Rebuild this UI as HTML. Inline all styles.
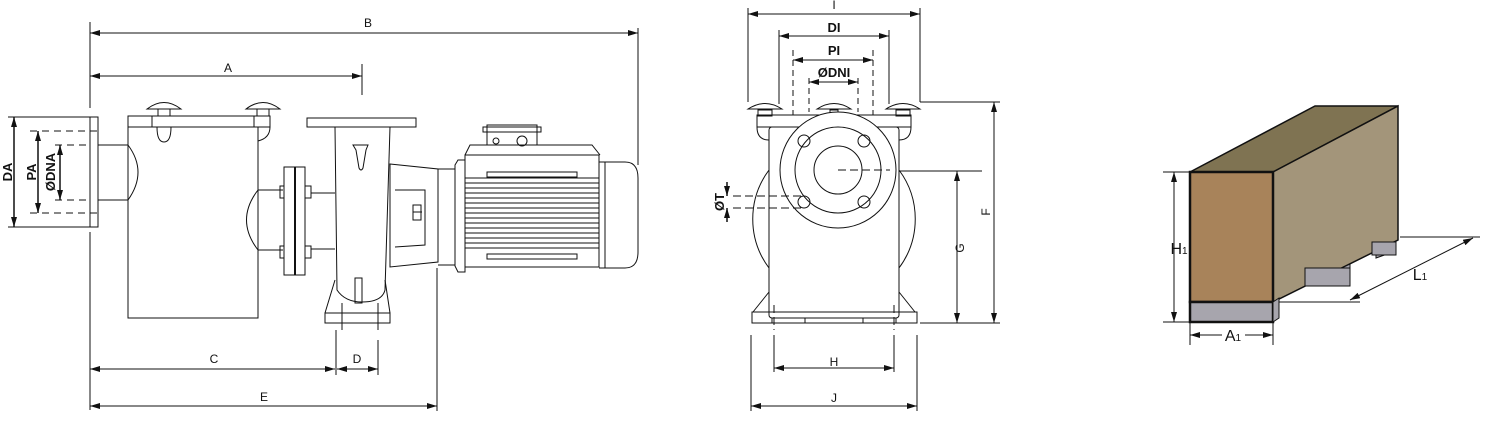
<!DOCTYPE html>
<html><head><meta charset="utf-8"><style>html,body{margin:0;padding:0;background:#fff}svg{display:block}</style></head>
<body>
<svg width="1486" height="422" viewBox="0 0 1486 422" xmlns="http://www.w3.org/2000/svg" font-family="Liberation Sans, sans-serif">
<defs>
<marker id="a" viewBox="0 0 10 6" refX="10" refY="3" markerWidth="10" markerHeight="6" orient="auto-start-reverse" markerUnits="userSpaceOnUse"><path d="M0,0L10,3L0,6z" fill="#111"/></marker>
</defs>
<g fill="none" stroke="#111" stroke-width="1">
<!-- ===== SIDE VIEW ===== -->
<!-- extension lines -->
<line x1="90" y1="22" x2="90" y2="108"/><line x1="90" y1="232" x2="90" y2="410"/>
<line x1="638" y1="28" x2="638" y2="165"/>
<line x1="362" y1="64" x2="362" y2="95"/>
<line x1="336" y1="330" x2="336" y2="375"/><line x1="378" y1="340" x2="378" y2="375"/>
<line x1="437" y1="268" x2="437" y2="411"/>
<!-- dims -->
<line x1="90" y1="33" x2="638" y2="33" marker-start="url(#a)" marker-end="url(#a)"/>
<line x1="90" y1="76" x2="362" y2="76" marker-start="url(#a)" marker-end="url(#a)"/>
<line x1="90" y1="369" x2="335" y2="369" marker-start="url(#a)" marker-end="url(#a)"/>
<line x1="337" y1="369" x2="378" y2="369" marker-start="url(#a)" marker-end="url(#a)"/>
<line x1="90" y1="406" x2="437" y2="406" marker-start="url(#a)" marker-end="url(#a)"/>
<line x1="8" y1="227" x2="90" y2="227"/><line x1="8" y1="117" x2="90" y2="117"/>
<line x1="14" y1="117" x2="14" y2="227" stroke-width="1.5" marker-start="url(#a)" marker-end="url(#a)"/>
<line x1="38" y1="131" x2="38" y2="213" stroke-width="1.5" marker-start="url(#a)" marker-end="url(#a)"/>
<line x1="60" y1="145" x2="60" y2="200" stroke-width="1.5" marker-start="url(#a)" marker-end="url(#a)"/>
<g stroke-dasharray="7,5"><line x1="30" y1="131" x2="100" y2="131"/><line x1="30" y1="213" x2="100" y2="213"/><line x1="55" y1="145" x2="90" y2="145"/><line x1="55" y1="200" x2="90" y2="200"/></g>
<!-- inlet flange & pipe -->
<rect x="90" y="117" width="8" height="110"/>
<path d="M98,145H128M98,200H128M128,145Q148,172 128,200"/>
<!-- strainer body -->
<path d="M128,116V318H258V127"/>
<rect x="128" y="116" width="142" height="11"/>
<line x1="152" y1="116" x2="152" y2="127"/><line x1="254" y1="116" x2="254" y2="127"/>
<path d="M157,127Q157,142 164,142Q171,142 171,127"/>
<path d="M258,141Q270,138 270,127"/>
<!-- knobs -->
<path d="M147,109Q164,96 181,109Z" fill="#fff"/><rect x="158" y="109" width="12" height="7"/>
<path d="M246,109Q263,96 280,109Z" fill="#fff"/><rect x="257" y="109" width="12" height="7"/>
<!-- outlet pipe -->
<path d="M258,190H283M258,250H283M258,190Q235,220 258,250"/>
<rect x="284" y="167" width="21" height="108"/><line x1="295" y1="167" x2="295" y2="275" stroke-width="2"/>
<rect x="280" y="186" width="4" height="12"/><rect x="280" y="246" width="4" height="12"/>
<rect x="305" y="186" width="6" height="12"/><rect x="305" y="246" width="6" height="12"/>
<path d="M311,193H335M311,249H335"/>
<!-- volute -->
<rect x="307" y="118" width="109" height="9"/>
<path d="M335,127L337,290Q345,302 362,302Q382,302 385,290L390,127"/>
<path d="M335,280L325,313M385,280L390,313"/>
<rect x="325" y="313" width="65" height="10"/>
<rect x="355" y="278" width="7" height="25"/>
<path d="M353,145L368,145L366,150L363,168Q361,172 359,168L356,150Z"/>
<line x1="342" y1="303" x2="342" y2="330"/><line x1="378" y1="303" x2="378" y2="330"/>
<!-- bracket -->
<path d="M390,164L438,169V262L390,267Z"/>
<path d="M395,190L425,190V245L395,247"/>
<rect x="413" y="205" width="8" height="15"/><line x1="413" y1="212" x2="422" y2="212"/>
<path d="M438,169L455,169V265L438,265"/>
<!-- motor -->
<path d="M455,165L458,160H465V272H458L455,266Z"/>
<path d="M465,155L470,145H592L600,155"/>
<rect x="465" y="155" width="134" height="112"/>
<rect x="487" y="125" width="50" height="20"/>
<rect x="483" y="127" width="58" height="5"/>
<circle cx="496" cy="141" r="3"/><circle cx="522" cy="141" r="5"/>
<rect x="487" y="172" width="90" height="5"/><rect x="487" y="254" width="90" height="5"/>
<g><line x1="465" y1="178" x2="599" y2="178"/><line x1="465" y1="183" x2="599" y2="183"/><line x1="465" y1="188" x2="599" y2="188"/><line x1="465" y1="193" x2="599" y2="193"/><line x1="465" y1="198" x2="599" y2="198"/><line x1="465" y1="203" x2="599" y2="203"/><line x1="465" y1="208" x2="599" y2="208"/><line x1="465" y1="213" x2="599" y2="213"/><line x1="465" y1="218" x2="599" y2="218"/><line x1="465" y1="223" x2="599" y2="223"/><line x1="465" y1="228" x2="599" y2="228"/><line x1="465" y1="233" x2="599" y2="233"/><line x1="465" y1="238" x2="599" y2="238"/><line x1="465" y1="243" x2="599" y2="243"/><line x1="465" y1="248" x2="599" y2="248"/></g>
<line x1="605" y1="162" x2="605" y2="268"/>
<path d="M599,162H625Q638,162 638,178V252Q638,268 625,268H599"/>

<!-- ===== FRONT VIEW ===== -->
<line x1="748" y1="8" x2="748" y2="102"/><line x1="920" y1="8" x2="920" y2="102"/>
<line x1="779" y1="30" x2="779" y2="104"/><line x1="889" y1="30" x2="889" y2="104"/>
<line x1="748" y1="14" x2="920" y2="14" marker-start="url(#a)" marker-end="url(#a)"/>
<line x1="779" y1="36" x2="889" y2="36" marker-start="url(#a)" marker-end="url(#a)"/>
<line x1="793" y1="60" x2="873" y2="60" marker-start="url(#a)" marker-end="url(#a)"/>
<line x1="809" y1="82" x2="858" y2="82" marker-start="url(#a)" marker-end="url(#a)"/>
<g stroke-dasharray="6,4"><line x1="793" y1="50" x2="793" y2="115"/><line x1="873" y1="50" x2="873" y2="115"/><line x1="809" y1="78" x2="809" y2="112"/><line x1="858" y1="78" x2="858" y2="112"/></g>
<line x1="920" y1="102" x2="1000" y2="102"/>
<!-- knobs -->
<path d="M748,109Q765,98 782,109Z" fill="#fff"/><rect x="758" y="110" width="14" height="6"/>
<path d="M817,109Q834,98 851,109Z" fill="#fff"/><rect x="830" y="110" width="8" height="5"/>
<path d="M886,109Q903,98 920,109Z" fill="#fff"/><rect x="896" y="110" width="14" height="6"/>
<rect x="757" y="115" width="154" height="12"/>
<path d="M757,127Q757,140 769,140M911,127Q911,140 899,140"/>
<!-- volute circle behind -->
<path d="M769,170A82,82 0 0 0 769,268M899,170A82,82 0 0 1 899,268"/>
<rect x="769" y="127" width="130" height="191" rx="3"/>
<path d="M769,292L753,312M899,292L915,312"/>
<rect x="752" y="312" width="165" height="11"/>
<rect x="772" y="318" width="33" height="5"/><rect x="863" y="318" width="33" height="5"/>
<circle cx="838" cy="170" r="58" fill="#fff"/>
<circle cx="838" cy="170" r="43"/><circle cx="838" cy="170" r="24"/>
<circle cx="804" cy="141" r="6"/><circle cx="864" cy="141" r="6"/><circle cx="804" cy="202" r="6"/><circle cx="864" cy="202" r="6"/>
<line x1="838" y1="170" x2="890" y2="170" stroke-dasharray="8,4"/>
<line x1="899" y1="171" x2="982" y2="171"/>
<line x1="920" y1="323" x2="1000" y2="323"/>
<line x1="957" y1="171" x2="957" y2="323" marker-start="url(#a)" marker-end="url(#a)"/>
<line x1="994" y1="102" x2="994" y2="323" marker-start="url(#a)" marker-end="url(#a)"/>
<g stroke-dasharray="8,4"><line x1="733" y1="196" x2="804" y2="196"/><line x1="733" y1="208" x2="804" y2="208"/><line x1="774" y1="305" x2="774" y2="330"/><line x1="894" y1="305" x2="894" y2="330"/></g>
<line x1="727" y1="182" x2="727" y2="196" stroke-width="1.5" marker-end="url(#a)"/>
<line x1="727" y1="222" x2="727" y2="208" stroke-width="1.5" marker-end="url(#a)"/>
<line x1="774" y1="335" x2="774" y2="372"/><line x1="894" y1="335" x2="894" y2="372"/>
<line x1="751" y1="335" x2="751" y2="411"/><line x1="917" y1="335" x2="917" y2="411"/>
<line x1="774" y1="368" x2="894" y2="368" marker-start="url(#a)" marker-end="url(#a)"/>
<line x1="751" y1="406" x2="917" y2="406" marker-start="url(#a)" marker-end="url(#a)"/>
</g>

<!-- ===== BOX ===== -->
<g stroke="#111" stroke-width="2">
<polygon points="1190,172 1273,172 1398,106 1315,106" fill="#7f7352" stroke-width="1.5"/>
<polygon points="1273,172 1398,106 1398,240 1273,302" fill="#a3957a" stroke-width="1.5"/>
<polygon points="1376,250 1393,242 1393,252 1376,258" fill="#a7a5ad" stroke-width="1"/>
<polygon points="1306,285 1350,264 1350,284 1306,286" fill="#a7a5ad" stroke-width="1"/>
<rect x="1305" y="268" width="45" height="18" fill="#a7a5ad" stroke-width="1"/>
<rect x="1372" y="242" width="24" height="13" fill="#a7a5ad" stroke-width="1"/>
<rect x="1190" y="172" width="83" height="130" fill="#a8835a" stroke-width="2.5"/>
<rect x="1190" y="302" width="83" height="20" fill="#a7a5ad" stroke-width="2.5"/>
<polygon points="1273,302 1279,298 1279,318 1273,322" fill="#a7a5ad" stroke-width="1"/>
</g>
<g stroke="#111" stroke-width="1" fill="none">
<line x1="1163" y1="172" x2="1190" y2="172"/><line x1="1163" y1="322" x2="1190" y2="322"/>
<line x1="1174" y1="172" x2="1174" y2="322" marker-start="url(#a)" marker-end="url(#a)"/>
<line x1="1279" y1="302" x2="1360" y2="302"/><line x1="1400" y1="237" x2="1480" y2="237"/>
<line x1="1350" y1="300" x2="1473" y2="238" marker-start="url(#a)" marker-end="url(#a)"/>
<line x1="1190" y1="322" x2="1190" y2="345"/><line x1="1273" y1="322" x2="1273" y2="345"/>
<line x1="1190" y1="335" x2="1222" y2="335" marker-start="url(#a)"/>
<line x1="1245" y1="335" x2="1273" y2="335" marker-end="url(#a)"/>
</g>

<!-- labels -->
<g fill="#111" font-size="12" text-anchor="middle">
<text x="368" y="27">B</text><text x="228" y="72">A</text>
<text x="214" y="363">C</text><text x="357" y="363">D</text><text x="264" y="401">E</text>
<text x="834" y="366">H</text><text x="834" y="402">J</text>
<text x="834" y="9">I</text>
<text transform="translate(964,248) rotate(-90)">G</text>
<text transform="translate(990,212) rotate(-90)">F</text>
<text x="1179" y="254" font-size="16">H<tspan font-size="10">1</tspan></text>
<text x="1420" y="280" font-size="16">L<tspan font-size="10">1</tspan></text>
<text x="1233" y="341" font-size="16">A<tspan font-size="10">1</tspan></text>
</g>
<g fill="#111" font-size="13" font-weight="bold" text-anchor="middle">
<text x="834" y="32">DI</text><text x="834" y="55">PI</text><text x="834" y="77">ØDNI</text>
<text transform="translate(12,172) rotate(-90)">DA</text>
<text transform="translate(36,172) rotate(-90)">PA</text>
<text transform="translate(55,172) rotate(-90)">ØDNA</text>
<text transform="translate(724,202) rotate(-90)">ØT</text>
</g>
</svg>
</body></html>
